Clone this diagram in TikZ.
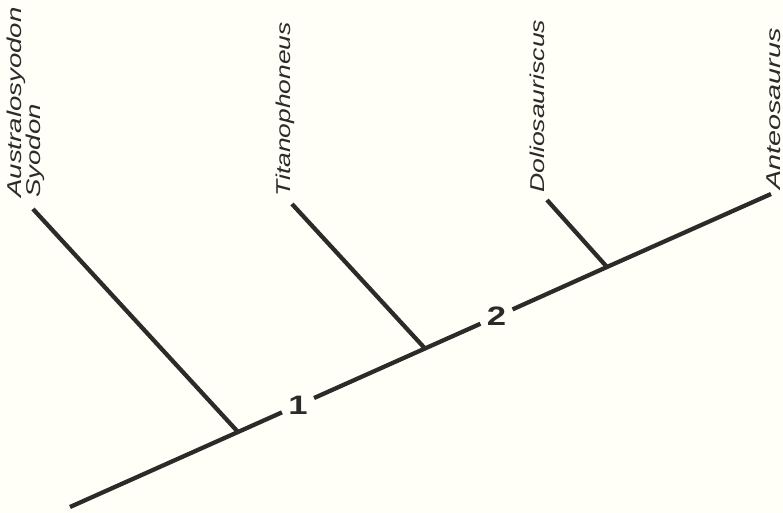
\documentclass[tikz,border=0pt]{standalone}
\usepackage{fontspec}
\usepackage{graphicx}
\newfontfamily\taxonfont{Liberation Sans}
\usetikzlibrary{calc}
\definecolor{cink}{HTML}{2D2B29}
\definecolor{cpaper}{HTML}{FFFEF7}
\newcommand{\wide}[2][1.42]{\scalebox{#1}[1]{#2}}
\tikzset{
  every picture/.style={x=0.75pt, y=-0.75pt},
  branch/.style={draw=cink, line width=3.2pt},
  taxon/.style={font=\taxonfont\itshape\fontsize{15}{14}\selectfont, text=cink, rotate=90, anchor=south west, inner sep=0pt, align=left},
  synapo/.style={circle, inner sep=0pt, minimum size=26pt, text=cink, font=\taxonfont\bfseries\fontsize{20}{20}\selectfont},
}

\begin{document}
\begin{tikzpicture}
  \fill[cpaper] (0,0) rectangle (783,513);
  \useasboundingbox (0,0) rectangle (783,513);
  % main stem
  \coordinate (root) at (70,507);
  \coordinate (j1) at (238,432);
  \node[synapo] (s1) at (298,405.2) {\wide[1.3]{1}};
  \coordinate (j2) at (425,348.5);
  \node[synapo] (s2) at (496.5,316.6) {\wide[1.3]{2}};
  \coordinate (j3) at (607,267);
  \coordinate (tip) at (771,194);
  % side branches
  \coordinate (t1) at (33,209);
  \coordinate (t2) at (292,204);
  \coordinate (t3) at (547,200);
  \draw[branch] (root) -- (j1) -- (s1);
  \draw[branch] (s1) -- (j2) -- (s2);
  \draw[branch] (s2) -- (j3) -- (tip);
  \draw[branch] (j1) -- (t1);
  \draw[branch] (j2) -- (t2);
  \draw[branch] (j3) -- (t3);
  % taxa
  \node[taxon] (aus) at (45,198) {\wide[1.38]{Australosyodon}\\\wide[1.38]{Syodon}};
  \node[taxon] (tit) at (295,197) {\wide[1.32]{Titanophoneus}};
  \node[taxon] (dol) at (545,193) {\wide[1.33]{Doliosauriscus}};
  \node[taxon] (ant) at (781,190) {\wide[1.44]{Anteosaurus}};
\end{tikzpicture}
\end{document}
